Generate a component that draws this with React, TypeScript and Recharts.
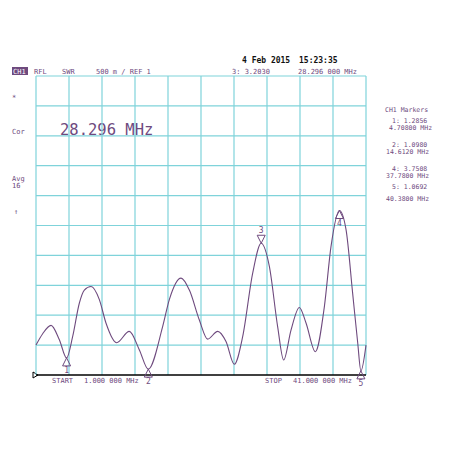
import React from "react";
import {
  Line,
  LineChart,
  ReferenceDot,
  ReferenceLine,
  XAxis,
  YAxis,
} from "recharts";

// trace: frequency (MHz) and SWR
const freqs = [
  1.0, 1.81, 2.82, 3.83, 4.708, 5.44, 6.25, 6.86, 7.67, 8.68, 9.48, 10.78,
  12.31, 13.53, 14.612, 16.35, 17.16, 18.58, 19.59, 20.8, 21.81, 23.02, 24.03,
  25.04, 26.05, 27.26, 28.296, 29.28, 30.29, 31.02, 31.91, 32.92, 33.73, 34.86,
  35.95, 36.76, 37.78, 38.58, 39.38, 40.0, 40.38, 41.0,
];
const swr = [
  1.5, 1.69, 1.83, 1.59, 1.2856, 1.64, 2.2, 2.42, 2.48, 2.26, 1.87, 1.54, 1.73,
  1.42, 1.098, 1.81, 2.26, 2.62, 2.42, 1.92, 1.6, 1.73, 1.56, 1.18, 1.64, 2.7,
  3.203, 2.82, 1.81, 1.25, 1.75, 2.13, 1.87, 1.39, 2.14, 3.15, 3.7508, 3.43,
  2.37, 1.53, 1.0692, 1.5,
];

const xTicks = [1, 5, 9, 13, 17, 21, 25, 29, 33, 37, 41];
const yTicks = [1.5, 2, 2.5, 3, 3.5, 4, 4.5, 5, 5.5, 6];

const markerIds = ["1", "2", "3", "4", "5"];
const markerFreqs = [4.708, 14.612, 28.296, 37.78, 40.38];
const markerSwr = [1.2856, 1.098, 3.203, 3.7508, 1.0692];
const markerKinds = ["up", "up", "down", "up", "up"];

const data = freqs.map((f, i) => ({ f, swr: swr[i] }));

const PURPLE = "#6e4a7e";
const GRID = "#7fd3da";
const MONO = "'DejaVu Sans Mono', monospace";

function MarkerShape(props: any) {
  const { cx, cy, id, kind } = props;
  if (cx == null || cy == null) return null;
  if (kind === "down") {
    return (
      <g>
        <path
          d={`M${cx},${cy} L${cx - 4},${cy - 8} L${cx + 4},${cy - 8} Z`}
          fill="none"
          stroke={PURPLE}
          strokeWidth={1}
        />
        <text x={cx} y={cy - 10} textAnchor="middle" fontSize={8} fill={PURPLE} fontFamily={MONO}>
          {id}
        </text>
      </g>
    );
  }
  return (
    <g>
      <path
        d={`M${cx},${cy} L${cx - 4},${cy + 8} L${cx + 4},${cy + 8} Z`}
        fill="none"
        stroke={PURPLE}
        strokeWidth={1}
      />
      <text x={cx} y={cy + 15} textAnchor="middle" fontSize={8} fill={PURPLE} fontFamily={MONO}>
        {id}
      </text>
    </g>
  );
}

const small = { fontFamily: MONO, fontSize: 7, fill: PURPLE };
const tiny = { fontFamily: MONO, fontSize: 6.5, fill: PURPLE };

export default function App() {
  return (
    <div style={{ position: "absolute", left: 0, top: 0, width: 450, height: 450, background: "#fff" }}>
      <LineChart
        width={450}
        height={450}
        data={data}
        margin={{ top: 76, right: 84, bottom: 75, left: 36 }}
      >
        <XAxis
          dataKey="f"
          type="number"
          domain={[1, 41]}
          ticks={xTicks}
          tick={false}
          axisLine={false}
          tickLine={false}
          height={0}
        />
        <YAxis
          type="number"
          domain={[1, 6]}
          ticks={yTicks}
          tick={false}
          axisLine={false}
          tickLine={false}
          width={0}
        />
        {/* graticule */}
        {xTicks.map((v) => (
          <ReferenceLine key={`vx${v}`} x={v} stroke={GRID} strokeWidth={1.2} />
        ))}
        {yTicks.map((v) => (
          <ReferenceLine key={`hy${v}`} y={v} stroke={GRID} strokeWidth={1.2} />
        ))}
        <ReferenceLine y={1} stroke="#000" strokeWidth={1.5} />
        <Line
          type="monotone"
          dataKey="swr"
          stroke={PURPLE}
          strokeWidth={1.1}
          dot={false}
          isAnimationActive={false}
        />
        {markerIds.map((id, i) => (
          <ReferenceDot
            key={id}
            x={markerFreqs[i]}
            y={markerSwr[i]}
            r={4}
            shape={(p: any) => <MarkerShape {...p} id={id} kind={markerKinds[i]} />}
          />
        ))}

        {/* header */}
        <text x={242} y={63} style={{ fontFamily: MONO, fontSize: 8, fill: "#111", fontWeight: "bold" }}>
          4 Feb 2015
        </text>
        <text x={299} y={63} style={{ fontFamily: MONO, fontSize: 8, fill: "#111", fontWeight: "bold" }}>
          15:23:35
        </text>
        <rect x={12} y={67} width={16} height={8} fill={PURPLE} />
        <text x={13} y={74} style={{ ...small, fill: "#fff" }}>CH1</text>
        <text x={34} y={74} style={small}>RFL</text>
        <text x={62} y={74} style={small}>SWR</text>
        <text x={96} y={74} style={small}>500 m / REF 1</text>
        <text x={232} y={74} style={small}>3: 3.2030</text>
        <text x={298} y={74} style={small}>28.296 000 MHz</text>

        {/* left annunciators */}
        <text x={12} y={100} style={small}>*</text>
        <text x={12} y={134} style={small}>Cor</text>
        <text x={12} y={181} style={small}>Avg</text>
        <text x={12} y={188} style={small}>16</text>
        <text x={14} y={214} style={small}>↑</text>

        {/* active marker readout */}
        <text x={60} y={135} style={{ fontFamily: MONO, fontSize: 15.5, fill: PURPLE }}>
          28.296 MHz
        </text>

        {/* marker table */}
        <text x={385} y={112} style={tiny}>CH1 Markers</text>
        <text x={392} y={123} style={tiny}>1: 1.2856</text>
        <text x={389} y={130} style={tiny}>4.70800 MHz</text>
        <text x={392} y={147} style={tiny}>2: 1.0980</text>
        <text x={386} y={154} style={tiny}>14.6120 MHz</text>
        <text x={392} y={171} style={tiny}>4: 3.7508</text>
        <text x={386} y={178} style={tiny}>37.7800 MHz</text>
        <text x={392} y={189} style={tiny}>5: 1.0692</text>
        <text x={386} y={201} style={tiny}>40.3800 MHz</text>

        {/* footer */}
        <path d="M33,372 L38,375 L33,378 Z" fill="none" stroke="#000" strokeWidth={1} />
        <text x={52} y={383} style={small}>START</text>
        <text x={84} y={383} style={small}>1.000 000 MHz</text>
        <text x={265} y={383} style={small}>STOP</text>
        <text x={293} y={383} style={small}>41.000 000 MHz</text>
      </LineChart>
    </div>
  );
}
